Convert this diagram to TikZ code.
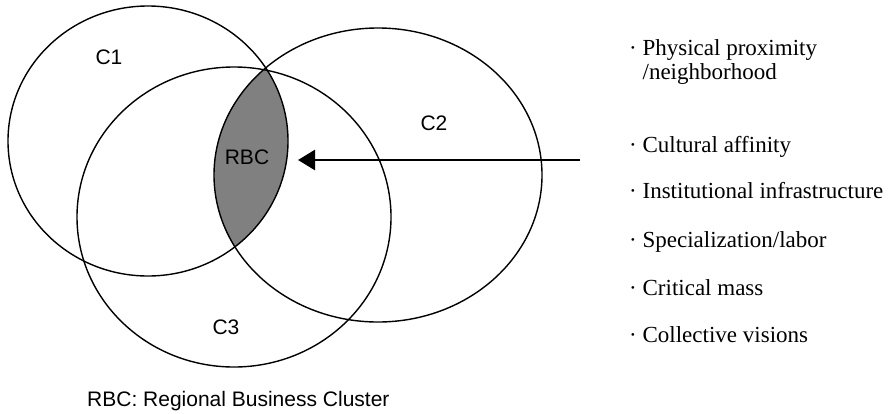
\documentclass[tikz,border=0pt]{standalone}
\usepackage{fontspec}
\setmainfont{Liberation Serif}
\setsansfont{Liberation Sans}
\usepackage{tikz}
\usetikzlibrary{arrows.meta}

\begin{document}
\begin{tikzpicture}[x=1pt, y=-1pt,
    cluster/.style={line width=1.4pt},
    clabel/.style={font=\fontsize{21}{25}\selectfont\sffamily, inner sep=0pt},
    factor/.style={font=\fontsize{23}{24}\selectfont, anchor=base west, inner sep=0pt, align=left}]
            \useasboundingbox                                                 (0, 0) rectangle (890, 413);
            % Overlap of C1 and C2
            \begin{scope}
                \clip                                                         (148, 141) ellipse [x radius=140pt, y radius=135pt];
                \fill[gray]                                                   (378, 175) ellipse [x radius=164pt, y radius=147pt];
            \end{scope}
            % Clusters
            \draw[cluster]                                                    (148, 141) ellipse [x radius=140pt, y radius=135pt];
            \draw[cluster]                                                    (378, 175) ellipse [x radius=164pt, y radius=147pt];
            \draw[cluster]                                                    (234, 217) ellipse [x radius=157pt, y radius=150pt];
            \node[clabel] (c1)  at (109,  57) {C1};
            \node[clabel] (c2)  at (434, 123) {C2};
            \node[clabel] (c3)  at (226, 327) {C3};
            \node[clabel] (rbc) at (247, 157) {RBC};
            \node[clabel, anchor=base west] (note) at (87, 406) {RBC: Regional Business Cluster};
            % Factors
            \node[factor] (f1) at (629,  79) {· Physical proximity\\\hphantom{· }/neighborhood};
            \node[factor] (f2) at (629, 152) {· Cultural affinity};
            \node[factor] (f3) at (629, 198) {· Institutional infrastructure};
            \node[factor] (f4) at (629, 247) {· Specialization/labor};
            \node[factor] (f5) at (629, 295) {· Critical mass};
            \node[factor] (f6) at (629, 342) {· Collective visions};
            % Arrow into the cluster
            \coordinate (src) at (580, 160);
            \coordinate (tip) at (298, 160);
            \draw[line width=2.6pt, -{Triangle[length=17pt, width=20pt]}]   (src) -- (tip);
\end{tikzpicture}
\end{document}
